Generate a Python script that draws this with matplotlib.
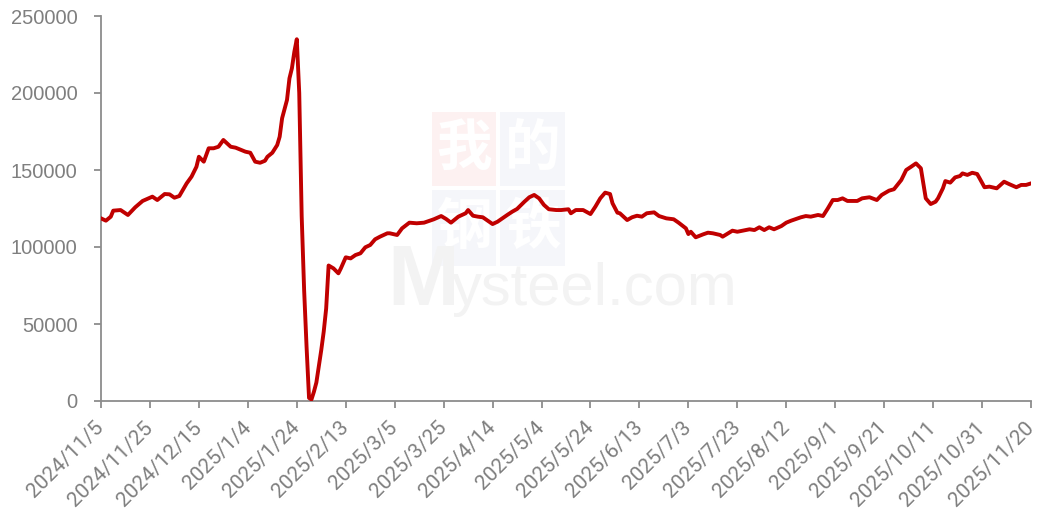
import matplotlib
matplotlib.use("Agg")
import matplotlib.pyplot as plt
from matplotlib.patches import Rectangle
import pandas as pd

dates = [
    "2024-11-05", "2024-11-07", "2024-11-09", "2024-11-10", "2024-11-13", "2024-11-16",
    "2024-11-19", "2024-11-22", "2024-11-26", "2024-11-28", "2024-12-01", "2024-12-03",
    "2024-12-05", "2024-12-07", "2024-12-10", "2024-12-12", "2024-12-14", "2024-12-15",
    "2024-12-17", "2024-12-19", "2024-12-21", "2024-12-23", "2024-12-25", "2024-12-28",
    "2024-12-30", "2025-01-03", "2025-01-05", "2025-01-07", "2025-01-09", "2025-01-11",
    "2025-01-12", "2025-01-14", "2025-01-16", "2025-01-17", "2025-01-18", "2025-01-20",
    "2025-01-21", "2025-01-22", "2025-01-23", "2025-01-24", "2025-01-25", "2025-01-26",
    "2025-01-27", "2025-01-28", "2025-01-29", "2025-01-30", "2025-01-31", "2025-02-01",
    "2025-02-03", "2025-02-04", "2025-02-05", "2025-02-06", "2025-02-08", "2025-02-10",
    "2025-02-11", "2025-02-13", "2025-02-15", "2025-02-17", "2025-02-19", "2025-02-21",
    "2025-02-23", "2025-02-25", "2025-02-27", "2025-03-02", "2025-03-03", "2025-03-06",
    "2025-03-08", "2025-03-11", "2025-03-14", "2025-03-17", "2025-03-19", "2025-03-21",
    "2025-03-24", "2025-03-26", "2025-03-28", "2025-03-31", "2025-04-03", "2025-04-04",
    "2025-04-06", "2025-04-08", "2025-04-10", "2025-04-14", "2025-04-16", "2025-04-17",
    "2025-04-20", "2025-04-22", "2025-04-24", "2025-04-27", "2025-04-29", "2025-05-01",
    "2025-05-03", "2025-05-05", "2025-05-07", "2025-05-10", "2025-05-12", "2025-05-15",
    "2025-05-16", "2025-05-18", "2025-05-21", "2025-05-24", "2025-05-26", "2025-05-28",
    "2025-05-30", "2025-06-01", "2025-06-02", "2025-06-04", "2025-06-05", "2025-06-08",
    "2025-06-10", "2025-06-12", "2025-06-14", "2025-06-16", "2025-06-19", "2025-06-21",
    "2025-06-24", "2025-06-27", "2025-06-29", "2025-07-02", "2025-07-03", "2025-07-04",
    "2025-07-06", "2025-07-09", "2025-07-11", "2025-07-13", "2025-07-16", "2025-07-17",
    "2025-07-21", "2025-07-23", "2025-07-28", "2025-07-30", "2025-08-01", "2025-08-03",
    "2025-08-05", "2025-08-07", "2025-08-10", "2025-08-12", "2025-08-14", "2025-08-18",
    "2025-08-20", "2025-08-22", "2025-08-25", "2025-08-27", "2025-08-29", "2025-08-31",
    "2025-09-02", "2025-09-04", "2025-09-06", "2025-09-10", "2025-09-12", "2025-09-15",
    "2025-09-18", "2025-09-20", "2025-09-23", "2025-09-25", "2025-09-28", "2025-09-30",
    "2025-10-02", "2025-10-04", "2025-10-06", "2025-10-07", "2025-10-08", "2025-10-10",
    "2025-10-12", "2025-10-13", "2025-10-15", "2025-10-16", "2025-10-18", "2025-10-20",
    "2025-10-22", "2025-10-23", "2025-10-25", "2025-10-27", "2025-10-29", "2025-10-30",
    "2025-11-01", "2025-11-03", "2025-11-06", "2025-11-09", "2025-11-11", "2025-11-14",
    "2025-11-16", "2025-11-18", "2025-11-20",
]

values = [
    118600, 117100, 119700, 123600, 124000, 120800,
    125800, 129900, 132700, 130500, 134400, 134200,
    132000, 133100, 141300, 145700, 152100, 158600,
    155400, 164100, 164100, 165100, 169500, 165100,
    164500, 161900, 161200, 155400, 154700, 156000,
    158600, 161200, 166200, 171600, 183600, 195500,
    209500, 216000, 226800, 234900, 200000, 120000,
    72000, 35000, 2000, 1000, 6000, 12000,
    33100, 45000, 60000, 88000, 86100, 82900,
    86100, 93300, 92600, 94800, 95900, 99800,
    101300, 105000, 106700, 108900, 108900, 107800,
    112100, 115800, 115400, 115800, 116900, 118000,
    120100, 118200, 115800, 119700, 121900, 124000,
    120300, 119700, 119300, 114900, 116400, 117500,
    120800, 122900, 124700, 129400, 132300, 133800,
    131600, 127300, 124500, 124000, 124000, 124500,
    121900, 124000, 124000, 121400, 126200, 131600,
    135300, 134400, 128400, 122300, 121900, 117500,
    119300, 120300, 119700, 121900, 122500, 120100,
    118600, 118000, 115800, 112100, 108400, 109900,
    106300, 108200, 109300, 108900, 107800, 106700,
    110600, 109900, 111500, 111000, 112800, 111000,
    112800, 111500, 113600, 115800, 117100, 119300,
    120100, 119700, 120800, 120100, 125100, 130500,
    130500, 131600, 129900, 129900, 131600, 132300,
    130500, 133800, 136600, 137500, 143500, 150000,
    152100, 154300, 151100, 141300, 131600, 127900,
    129400, 131600, 138100, 142800, 141800, 145200,
    146100, 147800, 146800, 148200, 147400, 144600,
    138800, 139200, 138100, 142400, 140900, 138800,
    140300, 140300, 141300,
]

x_start = "2024-11-05"
x_end = "2025-11-20"
y_ticks = [0, 50000, 100000, 150000, 200000, 250000]

LINE_COLOR = "#C00000"
AXIS_COLOR = "#8c8c8c"
TEXT_COLOR = "#7f7f7f"

plt.rcParams["font.family"] = ["Liberation Sans", "DejaVu Sans"]

fig = plt.figure(figsize=(10.4, 5.2), dpi=100)
ax = fig.add_axes([101 / 1040, 1 - 401 / 520, 930 / 1040, 385 / 520])

# watermark (figure coordinates, decorative)
def box(x0, y0, x1, y1, color, ch):
    fig.patches.append(Rectangle((x0 / 1040, 1 - y1 / 520), (x1 - x0) / 1040, (y1 - y0) / 520,
                                 transform=fig.transFigure, facecolor=color, edgecolor="none",
                                 zorder=0))
    fig.text((x0 + x1) / 2 / 1040, 1 - (y0 + y1) / 2 / 520, ch, ha="center", va="center",
             fontsize=40, color="white", fontweight="bold",
             family=["Noto Sans CJK SC", "DejaVu Sans"], zorder=0.5)

box(432, 112, 496, 186, "#fdf1f1", "我")
box(500, 112, 565, 186, "#f5f6fa", "的")
box(432, 190, 496, 266, "#f5f6fa", "钢")
box(500, 190, 565, 266, "#f5f6fa", "铁")
fig.text(387 / 1040, 1 - 305 / 520, "M", ha="left", va="baseline",
         fontsize=62, color="#f3f3f3", fontweight="bold", zorder=0.5)
fig.text(452 / 1040, 1 - 305 / 520, "ysteel.com", ha="left", va="baseline",
         fontsize=43, color="#f3f3f3", zorder=0.5)

ax.patch.set_alpha(0)
ax.set_zorder(2)

d = pd.to_datetime(dates)
ax.plot(d, values, color=LINE_COLOR, lw=2.8, solid_joinstyle="round", zorder=3)

start = pd.Timestamp(x_start)
end = pd.Timestamp(x_end)
ax.set_xlim(start, end)
ax.set_ylim(0, 250000)

xt = pd.date_range(start, end, freq="20D")
ax.set_xticks(xt)
ax.set_xticklabels([f"{t.year}/{t.month}/{t.day}" for t in xt], rotation=45,
                   ha="right", va="center", rotation_mode="anchor",
                   family=["Roboto", "DejaVu Sans"])
ax.set_yticks(y_ticks)
ax.set_yticklabels([str(v) for v in y_ticks])

for s in ["top", "right"]:
    ax.spines[s].set_visible(False)
for s in ["left", "bottom"]:
    ax.spines[s].set_color(AXIS_COLOR)
    ax.spines[s].set_linewidth(1.3)

ax.tick_params(axis="both", direction="out", length=5, width=1.3, color=AXIS_COLOR,
               labelcolor=TEXT_COLOR, labelsize=14.5)
ax.tick_params(axis="y", pad=12)
ax.tick_params(axis="x", pad=12, labelsize=15)

fig.savefig("out.png", dpi=100, facecolor="white")
